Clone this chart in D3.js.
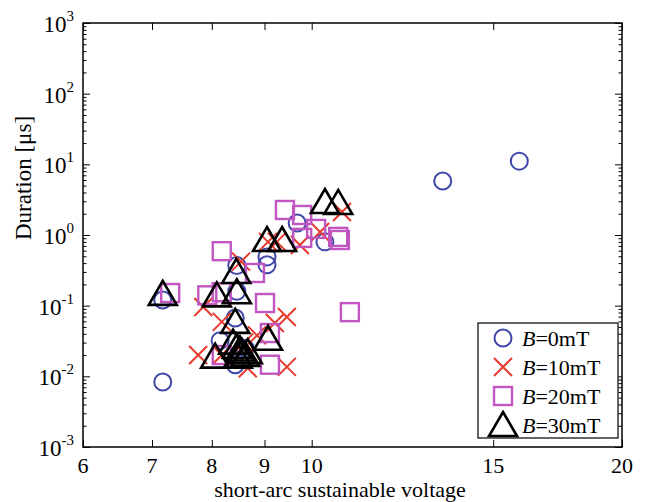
<!DOCTYPE html>
<html>
<head>
<meta charset="utf-8">
<script src="https://cdn.jsdelivr.net/npm/d3@7"></script>
<style>
  html, body { margin: 0; padding: 0; background: #fff; }
  svg { display: block; }
  text { font-family: "Liberation Serif", "Times New Roman", serif; fill: #000; }
</style>
</head>
<body>
<svg id="chart" width="647" height="502"></svg>
<script>
// Tick values for both logarithmic axes
const xTicks = [6, 7, 8, 9, 10, 15, 20];
const yExponents = [-3, -2, -1, 0, 1, 2, 3];

// Series: short-arc sustainable voltage [V] and arc duration [µs]
const b0Voltage  = [7.17, 7.17, 8.15, 8.43, 8.46, 8.46, 8.62, 8.43, 9.05, 9.05, 9.68, 10.30, 13.4, 15.9];
const b0Duration = [0.0083, 0.12, 0.032, 0.067, 0.16, 0.37, 0.025, 0.0146, 0.49, 0.38, 1.48, 0.80, 5.8, 11.1];

const b10Voltage  = [7.76, 7.85, 8.18, 8.18, 8.54, 8.60, 8.67, 8.85, 9.21, 9.46, 9.46, 9.07, 9.25, 9.74, 10.19, 10.70];
const b10Duration = [0.020, 0.096, 0.059, 0.020, 0.42, 0.030, 0.013, 0.038, 0.057, 0.069, 0.0136, 0.80, 0.80, 0.72, 1.10, 2.12];

const b20Voltage  = [7.29, 7.92, 8.18, 8.18, 8.81, 9.01, 9.11, 9.11, 8.18, 9.42, 9.79, 9.79, 10.10, 10.61, 10.65, 10.89];
const b20Duration = [0.151, 0.14, 0.155, 0.59, 0.29, 0.109, 0.041, 0.0146, 0.020, 2.26, 1.92, 0.91, 1.22, 0.94, 0.85, 0.081];

const b30Voltage  = [7.17, 8.09, 8.46, 8.45, 9.05, 9.36, 10.30, 10.61, 8.43, 9.07, 8.06, 8.39, 8.46, 8.52, 8.56, 8.62, 8.48, 8.67];
const b30Duration = [0.147, 0.14, 0.155, 0.30, 0.85, 0.85, 2.93, 2.84, 0.059, 0.034, 0.019, 0.030, 0.026, 0.024, 0.022, 0.020, 0.019, 0.022];

const seriesLabels = ["0mT", "10mT", "20mT", "30mT"];

const svg = d3.select("#chart");
const pLeft = 83, pRight = 622, pTop = 23, pBottom = 447;

const x = d3.scaleLog().domain([6, 20]).range([pLeft, pRight]);
const y = d3.scaleLog().domain([1e-3, 1e3]).range([pBottom, pTop]);

// Minor ticks for the duration axis (2..9 in each decade)
const yMinor = [];
for (let e = -3; e < 3; e++) for (let m = 2; m <= 9; m++) yMinor.push(m * Math.pow(10, e));
const yMajor = yExponents.map(e => Math.pow(10, e));

function styleAxis(g) {
  g.select(".domain").remove();
  g.selectAll("line").attr("stroke", "#000").attr("stroke-width", 1);
}

// Bottom and top axes (ticks point inwards)
svg.append("g").attr("transform", `translate(0,${pBottom})`)
  .call(d3.axisBottom(x).tickValues(xTicks).tickSize(-7).tickFormat(""))
  .call(styleAxis);
svg.append("g").attr("transform", `translate(0,${pTop})`)
  .call(d3.axisTop(x).tickValues(xTicks).tickSize(-7).tickFormat(""))
  .call(styleAxis);

// Left and right axes: major and minor ticks
svg.append("g").attr("transform", `translate(${pLeft},0)`)
  .call(d3.axisLeft(y).tickValues(yMajor).tickSize(-7).tickFormat(""))
  .call(styleAxis);
svg.append("g").attr("transform", `translate(${pLeft},0)`)
  .call(d3.axisLeft(y).tickValues(yMinor).tickSize(-3.5).tickFormat(""))
  .call(styleAxis);
svg.append("g").attr("transform", `translate(${pRight},0)`)
  .call(d3.axisRight(y).tickValues(yMajor).tickSize(-7).tickFormat(""))
  .call(styleAxis);
svg.append("g").attr("transform", `translate(${pRight},0)`)
  .call(d3.axisRight(y).tickValues(yMinor).tickSize(-3.5).tickFormat(""))
  .call(styleAxis);

// Axes box
svg.append("rect")
  .attr("x", pLeft).attr("y", pTop)
  .attr("width", pRight - pLeft).attr("height", pBottom - pTop)
  .attr("fill", "none").attr("stroke", "#000").attr("stroke-width", 1.5);

// X tick labels
svg.append("g").selectAll("text").data(xTicks).join("text")
  .attr("x", d => x(d)).attr("y", pBottom + 26)
  .attr("text-anchor", "middle").attr("font-size", 22)
  .text(d => d);

// Y tick labels with superscript exponent
const yLab = svg.append("g").selectAll("text").data(yExponents).join("text")
  .attr("x", pLeft - 9).attr("y", d => y(Math.pow(10, d)) + 9)
  .attr("text-anchor", "end").attr("font-size", 23);
yLab.append("tspan").text("10");
yLab.append("tspan").attr("dy", -11).attr("font-size", 15).text(d => d);

// Axis titles
svg.append("text")
  .attr("x", 340).attr("y", 497)
  .attr("text-anchor", "middle").attr("font-size", 22)
  .text("short-arc sustainable voltage");
svg.append("text")
  .attr("transform", `translate(31,${(pTop + pBottom) / 2 - 57}) rotate(-90)`)
  .attr("text-anchor", "middle").attr("font-size", 23)
  .text("Duration [\u03bcs]");

// Marker shapes
const colors = ["#3f48aa", "#e63a2c", "#c155c1", "#000000"];
const crossPath = "M-9,-9L9,9M-9,9L9,-9";
const triPath = "M0,-13L14,11L-14,11Z";

function circleMark(g, cx, cy) {
  g.append("circle").attr("cx", cx).attr("cy", cy).attr("r", 8.5)
    .attr("fill", "none").attr("stroke", colors[0]).attr("stroke-width", 2);
}
function crossMark(g, cx, cy) {
  g.append("path").attr("d", crossPath).attr("transform", `translate(${cx},${cy})`)
    .attr("fill", "none").attr("stroke", colors[1]).attr("stroke-width", 2);
}
function squareMark(g, cx, cy) {
  g.append("rect").attr("x", cx - 9).attr("y", cy - 9).attr("width", 18).attr("height", 18)
    .attr("fill", "none").attr("stroke", colors[2]).attr("stroke-width", 2.4);
}
function triMark(g, cx, cy) {
  g.append("path").attr("d", triPath).attr("transform", `translate(${cx},${cy})`)
    .attr("fill", "none").attr("stroke", colors[3]).attr("stroke-width", 2.6)
    .attr("stroke-linejoin", "miter");
}

const series = [
  { v: b0Voltage,  d: b0Duration,  mark: circleMark },
  { v: b10Voltage, d: b10Duration, mark: crossMark },
  { v: b20Voltage, d: b20Duration, mark: squareMark },
  { v: b30Voltage, d: b30Duration, mark: triMark }
];

const plot = svg.append("g");
series.forEach(s => {
  const g = plot.append("g");
  s.v.forEach((v, i) => s.mark(g, x(v), y(s.d[i])));
});

// Legend
const lg = svg.append("g");
const lgX = 478, lgY = 323, lgW = 140, lgH = 115;
lg.append("rect").attr("x", lgX).attr("y", lgY).attr("width", lgW).attr("height", lgH)
  .attr("fill", "#fff").attr("stroke", "#000").attr("stroke-width", 1.2);
series.forEach((s, i) => {
  const cy = lgY + 15 + i * 29;
  s.mark(lg, lgX + 25, cy);
  const t = lg.append("text").attr("x", lgX + 44).attr("y", cy + 8).attr("font-size", 22);
  t.append("tspan").attr("font-style", "italic").text("B");
  t.append("tspan").text("=" + seriesLabels[i]);
});
</script>
</body>
</html>
